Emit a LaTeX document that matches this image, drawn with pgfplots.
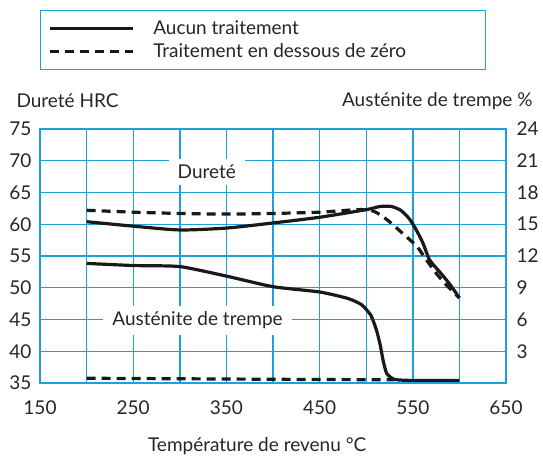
\documentclass[border=0pt]{standalone}
\usepackage{fontspec}
\setmainfont{Lato}
\usepackage{pgfplots}
\pgfplotsset{compat=1.18}
\definecolor{gridc}{HTML}{1EA0DC}

\begin{document}
\fontsize{19}{22}\selectfont
\begin{tikzpicture}
\begin{axis}[
  name=ax,
  scale only axis, width=466pt, height=254pt,
  xmin=150, xmax=650, ymin=35, ymax=75,
  xtick={150,250,...,650}, minor xtick={200,300,...,600},
  ytick={35,40,...,75},
  grid=both,
  major grid style={gridc, line width=1.4pt},
  minor grid style={gridc, line width=1.4pt},
  axis line style={gridc, line width=1.4pt},
  major tick length=0pt, minor tick length=0pt,
  tick label style={font=\fontsize{19}{22}\selectfont, text=black!85},
  /pgf/number format/assume math mode=true,
  /pgf/number format/1000 sep={},
  xticklabel style={yshift=-11pt},
  yticklabel style={xshift=-2pt},
  clip=false,
  legend style={at={(axis description cs:0,1.469)}, anchor=north west,
    draw=gridc, line width=1pt, inner xsep=8pt, inner ysep=8pt,
    font=\fontsize{19}{22}\selectfont, text=black!85,
    row sep=2pt,
    /tikz/every odd column/.append style={column sep=17pt}},
  legend cell align=left,
  legend image code/.code={\draw[#1, line width=2.8pt] (0pt,0pt) -- (83pt,0pt);},
]
% Durete, aucun traitement
\addplot[black!90, line width=3.2pt, smooth, tension=0.4] coordinates {
  (200,60.4) (250,59.7) (300,59.1) (350,59.4) (400,60.2) (450,61.1)
  (500,62.3) (515,62.8) (527,62.8) (537,62.2) (546,60.9) (553,59.3)
  (561,57.0) (568,54.4) (580,52.3) (590,50.5) (600,48.4)
};
\addlegendentry{\makebox[322pt][l]{Aucun traitement}}
% Durete, traitement en dessous de zero
\addplot[black!90, line width=3.2pt, dash pattern=on 9pt off 6pt, smooth, tension=0.4] coordinates {
  (200,62.2) (250,61.9) (300,61.7) (350,61.6) (400,61.7) (450,61.9)
  (490,62.3) (505,62.2) (515,61.5) (525,60.4) (535,59.1) (545,57.8)
  (555,56.4) (565,54.3) (575,52.3) (585,50.6) (600,48.4)
};
\addlegendentry{\makebox[322pt][l]{Traitement en dessous de z\'ero}}

\node[fill=white, inner xsep=9pt, inner ysep=6pt, text=black!85] at (axis cs:329,68.2) {Duret\'e};
\node[fill=white, inner xsep=9pt, inner ysep=6pt, text=black!85] at (axis cs:319,44.9) {Aust\'enite de trempe};

\node[anchor=west, text=black!85] at ([xshift=-30pt,yshift=28pt]rel axis cs:0,1) {Duret\'e HRC};
\node[anchor=east, text=black!85] at ([xshift=33pt,yshift=28pt]rel axis cs:1,1) {Aust\'enite de trempe \%};
\node[text=black!85] at ([yshift=-63pt]rel axis cs:0.466,0) {Temp\'erature de revenu °C};
\end{axis}

\begin{axis}[
  scale only axis, width=466pt, height=254pt,
  xmin=150, xmax=650, ymin=0, ymax=24,
  hide x axis,
  axis y line*=right,
  ytick={3,6,...,24},
  axis line style={gridc, line width=1.4pt},
  major tick length=0pt,
  tick label style={font=\fontsize{19}{22}\selectfont, text=black!85},
  /pgf/number format/assume math mode=true,
  yticklabel style={xshift=4pt},
]
% Austenite, aucun traitement
\addplot[black!90, line width=3.2pt, smooth, tension=0.35] coordinates {
  (200,11.3) (250,11.1) (300,11.0) (350,10.1) (400,9.1) (450,8.6)
  (480,8.0) (495,7.4) (505,6.4) (511,5.0) (515,3.6) (518,2.2)
  (522,0.9) (530,0.35) (545,0.25) (600,0.25)
};
% Austenite, traitement en dessous de zero
\addplot[black!90, line width=3.2pt, dash pattern=on 9pt off 6pt] coordinates {
  (200,0.45) (300,0.4) (400,0.35) (530,0.3)
};
\end{axis}
\pgfresetboundingbox
\path ([xshift=-40pt,yshift=-76pt]ax.south west) rectangle ([xshift=37pt,yshift=129pt]ax.north east);
\end{tikzpicture}
\end{document}
